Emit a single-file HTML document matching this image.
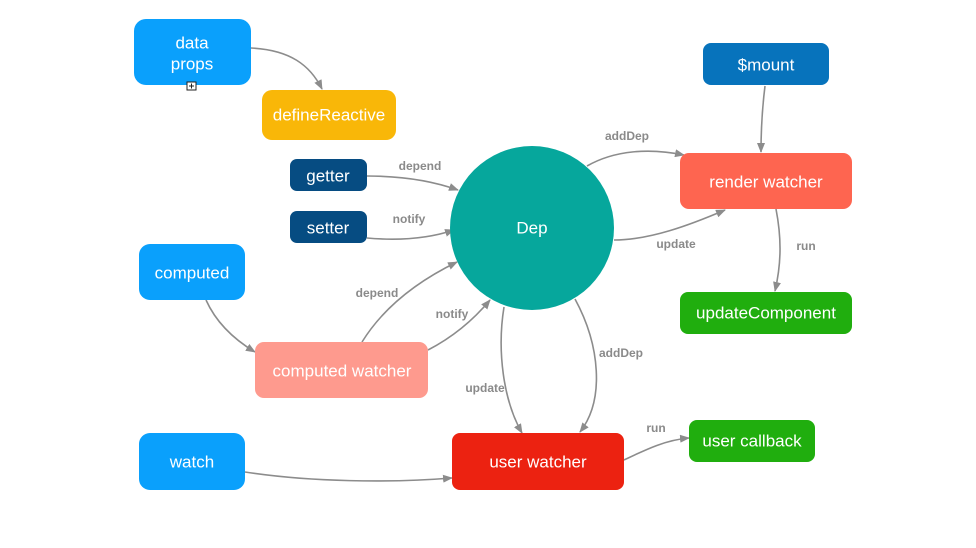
<!DOCTYPE html>
<html><head><meta charset="utf-8"><style>
html,body{margin:0;padding:0;background:#fff;}
svg{display:block;font-family:"Liberation Sans",sans-serif;}
.n{fill:#fff;font-size:17px;text-anchor:middle;dominant-baseline:central;}
.l{fill:#8a8a8a;font-size:12px;font-weight:bold;text-anchor:middle;}
.e{fill:none;stroke:#8c8c8c;stroke-width:1.6;marker-end:url(#a);}
</style></head><body>
<svg width="976" height="548" viewBox="0 0 976 548">
<defs><marker id="a" markerWidth="10" markerHeight="8" refX="9" refY="4" orient="auto" markerUnits="userSpaceOnUse"><path d="M0,0 L10,4 L0,8 Z" fill="#8c8c8c"/></marker></defs>
<!-- edges -->
<path class="e" d="M251,48 C290,50 310,65 322,89"/>
<path class="e" d="M367,176 C400,176 430,180 458,190"/>
<path class="e" d="M367,238 C400,241 430,238 454,230"/>
<path class="e" d="M206,300 C215,320 230,337 255,352"/>
<path class="e" d="M362,342 C385,305 420,280 457,262"/>
<path class="e" d="M428,350 C455,336 475,318 490,300"/>
<path class="e" d="M245,472 C310,482 390,483 452,478"/>
<path class="e" d="M587,166 C615,150 650,148 684,155"/>
<path class="e" d="M614,240 C650,240 690,225 725,210"/>
<path class="e" d="M765,86 C762,110 761,130 761,152"/>
<path class="e" d="M776,209 C782,240 781,265 775,291"/>
<path class="e" d="M504,307 C497,350 503,400 522,433"/>
<path class="e" d="M575,299 C600,345 605,400 580,432"/>
<path class="e" d="M624,460 C645,450 665,440 689,438"/>
<!-- labels -->
<text class="l" x="420" y="170">depend</text>
<text class="l" x="409" y="223">notify</text>
<text class="l" x="377" y="297">depend</text>
<text class="l" x="452" y="318">notify</text>
<text class="l" x="627" y="140">addDep</text>
<text class="l" x="676" y="248">update</text>
<text class="l" x="806" y="250">run</text>
<text class="l" x="621" y="357">addDep</text>
<text class="l" x="485" y="392">update</text>
<text class="l" x="656" y="432">run</text>
<!-- nodes -->
<rect x="134" y="19" width="117" height="66" rx="12" fill="#0aa0fc"/>
<text class="n" x="192" y="43">data</text><text class="n" x="192" y="64">props</text>
<rect x="187" y="82" width="9" height="8" fill="#fff" stroke="#222" stroke-width="1"/>
<path d="M191.5,83.5 V88.5 M189,86 H194" stroke="#222" stroke-width="1"/>
<rect x="262" y="90" width="134" height="50" rx="10" fill="#f9b708"/>
<text class="n" x="329" y="115">defineReactive</text>
<rect x="290" y="159" width="77" height="32" rx="7" fill="#064c82"/>
<text class="n" x="328" y="176">getter</text>
<rect x="290" y="211" width="77" height="32" rx="7" fill="#064c82"/>
<text class="n" x="328" y="228">setter</text>
<rect x="139" y="244" width="106" height="56" rx="11" fill="#0aa0fc"/>
<text class="n" x="192" y="273">computed</text>
<rect x="255" y="342" width="173" height="56" rx="9" fill="#fe9a8e"/>
<text class="n" x="342" y="371">computed watcher</text>
<rect x="139" y="433" width="106" height="57" rx="11" fill="#0aa0fc"/>
<text class="n" x="192" y="462">watch</text>
<circle cx="532" cy="228" r="82" fill="#06a79c"/>
<text class="n" x="532" y="228">Dep</text>
<rect x="703" y="43" width="126" height="42" rx="8" fill="#0773bc"/>
<text class="n" x="766" y="65">$mount</text>
<rect x="680" y="153" width="172" height="56" rx="9" fill="#fe6550"/>
<text class="n" x="766" y="182">render watcher</text>
<rect x="680" y="292" width="172" height="42" rx="8" fill="#20ae0e"/>
<text class="n" x="766" y="313">updateComponent</text>
<rect x="452" y="433" width="172" height="57" rx="8" fill="#ec2211"/>
<text class="n" x="538" y="462">user watcher</text>
<rect x="689" y="420" width="126" height="42" rx="8" fill="#20ae0e"/>
<text class="n" x="752" y="441">user callback</text>
</svg>
</body></html>
